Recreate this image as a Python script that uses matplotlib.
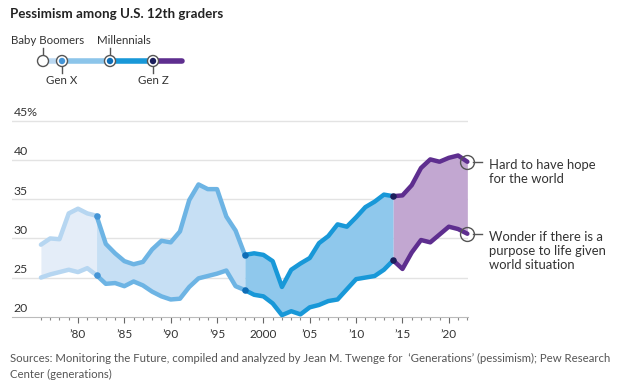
import matplotlib.pyplot as plt
from matplotlib.patches import Circle

plt.rcParams['font.family'] = ['Lato', 'DejaVu Sans']

# data (percent of 12th graders)
years = list(range(1976, 2023))
hope = [29.2, 30.0, 29.9, 33.2, 33.8, 33.2, 32.9, 29.3, 28.1, 27.1,
        26.7, 27.0, 28.6, 29.7, 29.5, 30.9, 34.9, 36.9, 36.3, 36.3,
        32.8, 31.0, 27.9, 28.1, 27.9, 27.1, 23.8, 26.0, 26.8, 27.5,
        29.4, 30.3, 31.8, 31.5, 32.7, 34.0, 34.7, 35.6, 35.4, 35.5,
        36.8, 39.0, 40.1, 39.8, 40.3, 40.6, 39.8]
purpose = [25.0, 25.4, 25.7, 26.0, 25.7, 26.2, 25.3, 24.2, 24.3, 23.9,
           24.5, 24.0, 23.2, 22.6, 22.2, 22.3, 23.8, 24.9, 25.2, 25.5,
           25.9, 23.9, 23.4, 22.8, 22.6, 21.7, 20.2, 20.7, 20.3, 21.2,
           21.5, 22.0, 22.2, 23.5, 24.8, 25.0, 25.2, 26.0, 27.2, 26.1,
           28.2, 29.8, 29.5, 30.5, 31.5, 31.2, 30.6]

gen_names = ['Baby Boomers', 'Gen X', 'Millennials', 'Gen Z']
gen_starts = [1976, 1982, 1998, 2014]
gen_ends = [1982, 1998, 2014, 2022]
line_colors = ['#b6d6f1', '#6db4e4', '#1898d8', '#5e2e8f']
fill_colors = ['#e4edf8', '#c6dff4', '#8fc8ec', '#c2a7d1']
dot_colors = ['#b6d6f1', '#4595d6', '#0f6db6', '#1c1f5c']

y_ticks = [20, 25, 30, 35, 40, 45]
y_labels = ['20', '25', '30', '35', '40', '45%']
x_ticks = [1980, 1985, 1990, 1995, 2000, 2005, 2010, 2015, 2020]
x_labels = ['\u201980', '\u201985', '\u201990', '\u201995', '2000',
            '\u201905', '\u201910', '\u201915', '\u201920']

series_labels = ['Hard to have hope\nfor the world',
                 'Wonder if there is a\npurpose to life given\nworld situation']

fig = plt.figure(figsize=(6.3, 3.81), dpi=100)
ax = fig.add_axes([12 / 630, 64.3 / 381, 456 / 630, 198 / 381])

# gridlines and y labels sitting on top of them
for v, lab in zip(y_ticks, y_labels):
    if v > y_ticks[0]:
        ax.axhline(v, color='#e3e3e3', lw=1, zorder=0)
    ax.text(1973.05, v + 0.35, lab, ha='left', va='bottom', fontsize=8.8,
            color='#333333')

# generation bands
for i in range(len(gen_names)):
    idx = [k for k, y in enumerate(years) if gen_starts[i] <= y <= gen_ends[i]]
    xs = [years[k] for k in idx]
    top = [hope[k] for k in idx]
    bot = [purpose[k] for k in idx]
    z = 2 + i * 3
    ax.fill_between(xs, bot, top, color=fill_colors[i], lw=0, zorder=z)
    for s in (top, bot):
        ax.plot(xs, s, color=line_colors[i], lw=3.2, solid_capstyle='round',
                solid_joinstyle='round', zorder=z + 1, clip_on=False)
    if i > 0:
        ax.scatter([xs[0], xs[0]], [top[0], bot[0]], s=22, color=dot_colors[i],
                   zorder=z + 2, lw=0)

# end markers and labels
ends = [hope[-1], purpose[-1]]
for v, lab in zip(ends, series_labels):
    ax.plot([years[-1]], [v], marker='o', ms=10, mfc='none', mec='#555555',
            mew=1, zorder=20, clip_on=False)
    ax.plot([years[-1] + 0.6, years[-1] + 1.6], [v, v], color='#555555', lw=1,
            clip_on=False)
    ax.text(years[-1] + 2.3, v + 0.4, lab, ha='left', va='top', fontsize=9.4,
            color='#333333', linespacing=1.2)

ax.set_xlim(1972.88, 2022.07)
ax.set_ylim(20, 45.3)
for side in ['top', 'right', 'left']:
    ax.spines[side].set_visible(False)
ax.spines['bottom'].set_color('#bbbbbb')
ax.spines['bottom'].set_bounds(1972.88, 2022.07)
ax.set_yticks([])
ax.set_xticks(x_ticks)
ax.set_xticklabels(x_labels, fontsize=8.5, color='#333333')
ax.set_xticks(years, minor=True)
ax.tick_params(axis='x', which='major', length=4, width=0.8, color='#666666', pad=5)
ax.tick_params(axis='x', which='minor', length=2, width=0.8, color='#888888')

# generation key at the top
lg = fig.add_axes([0, 0, 1, 1])
lg.set_xlim(0, 630)
lg.set_ylim(381, 0)
lg.axis('off')
key_x = [43, 62, 110, 153]
key_end = 182
seg_ends = key_x[1:] + [key_end]
key_line = ['#bad8f1', '#8cc5ea', '#1898d8', '#5e2e8f']
for i in range(4):
    lg.plot([key_x[i], seg_ends[i]], [61, 61], color=key_line[i], lw=4,
            solid_capstyle='round' if i == 3 else 'butt', zorder=1)
for i, name in enumerate(gen_names):
    lg.add_patch(Circle((key_x[i], 61), 5.5, facecolor='white', edgecolor='#555555',
                        lw=1, zorder=3))
    if i > 0:
        lg.add_patch(Circle((key_x[i], 61), 3.2, facecolor=dot_colors[i], lw=0,
                            zorder=4))
    if i % 2 == 0:
        lg.plot([key_x[i], key_x[i]], [55.5, 48], color='#555555', lw=1)
        tx = 11 if i == 0 else 97
        lg.text(tx, 40, name, ha='left', va='center', fontsize=8.3, color='#333333')
    else:
        lg.plot([key_x[i], key_x[i]], [66.5, 73], color='#555555', lw=1)
        tx = 46 if i == 1 else 138
        lg.text(tx, 81, name, ha='left', va='center', fontsize=8.3, color='#333333')

fig.text(10 / 630, 1 - 14 / 381, 'Pessimism among U.S. 12th graders',
         ha='left', va='center', fontsize=9.6, fontweight='bold', color='#222222')
fig.text(10 / 630, 1 - 358 / 381,
         'Sources: Monitoring the Future, compiled and analyzed by Jean M. Twenge for  '
         '\u2018Generations\u2019 (pessimism); Pew Research',
         ha='left', va='center', fontsize=8.2, color='#555555')
fig.text(10 / 630, 1 - 374 / 381, 'Center (generations)',
         ha='left', va='center', fontsize=8.2, color='#555555')

fig.savefig('out.png', dpi=100)
